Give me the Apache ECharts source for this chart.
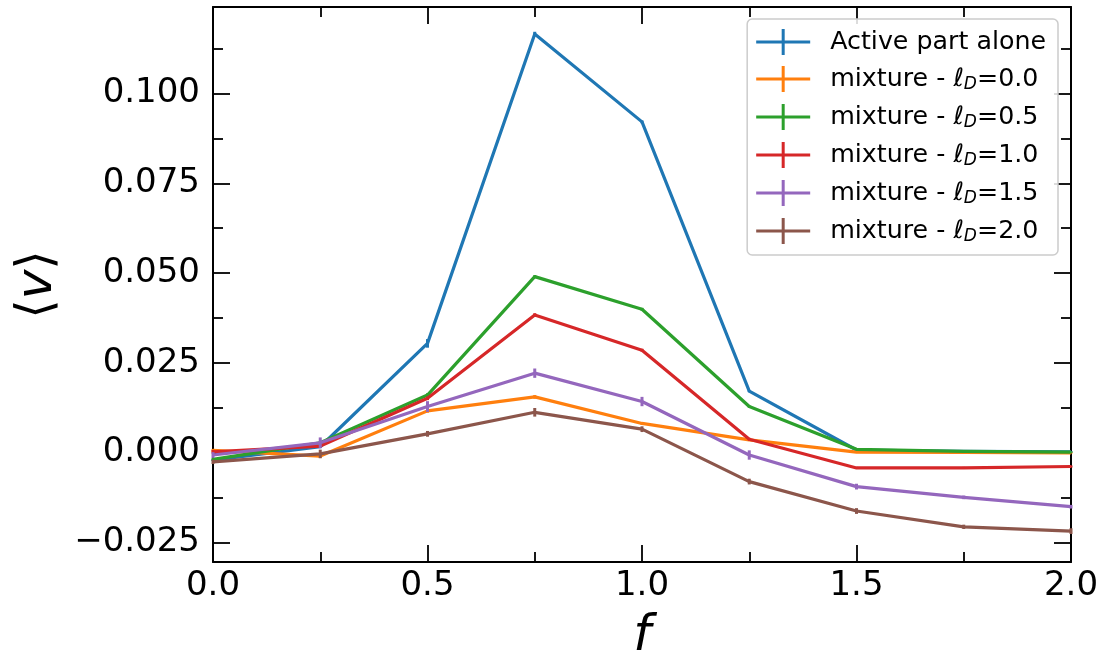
<!DOCTYPE html>
<html>
<head>
<meta charset="utf-8">
<script src="https://cdn.jsdelivr.net/npm/echarts@6/dist/echarts.min.js"></script>
<style>
  html, body { margin: 0; padding: 0; background: #fff; }
  #chart { width: 1104px; height: 653px; }
</style>
</head>
<body>
<div id="chart"></div>
<script>
// Activity fraction f on the x axis
const fValues = [0.0, 0.25, 0.5, 0.75, 1.0, 1.25, 1.5, 1.75, 2.0];

// Mean velocity <v> for each run
const activeAlone = [-0.0021, 0.0016, 0.0304, 0.1166, 0.0921, 0.0171, 0.0007, 0.0003, 0.0002];
const mixL00 = [0.0006, -0.0010, 0.0116, 0.0155, 0.0081, 0.0035, 0.0001, 0.0000, -0.0001];
const mixL05 = [-0.0019, 0.0027, 0.0160, 0.0490, 0.0399, 0.0128, 0.0009, 0.0003, 0.0001];
const mixL10 = [0.0002, 0.0018, 0.0151, 0.0383, 0.0285, 0.0037, -0.0043, -0.0043, -0.0039];
const mixL15 = [-0.0007, 0.0027, 0.0128, 0.0221, 0.0142, -0.0007, -0.0095, -0.0125, -0.0151];
const mixL20 = [-0.0026, -0.0004, 0.0052, 0.0112, 0.0065, -0.0081, -0.0163, -0.0207, -0.0219];

// Error bar half-heights
const errActive = [0.0003, 0.0003, 0.0012, 0.0006, 0.0004, 0.0003, 0.0002, 0.0002, 0.0002];
const errL00 = [0.0004, 0.0005, 0.0005, 0.0005, 0.0004, 0.0003, 0.0002, 0.0002, 0.0002];
const errL05 = [0.0004, 0.0004, 0.0005, 0.0004, 0.0004, 0.0003, 0.0002, 0.0002, 0.0002];
const errL10 = [0.0005, 0.0004, 0.0005, 0.0005, 0.0004, 0.0004, 0.0003, 0.0003, 0.0003];
const errL15 = [0.0008, 0.0015, 0.0015, 0.0013, 0.0013, 0.0013, 0.0008, 0.0005, 0.0005];
const errL20 = [0.0006, 0.0012, 0.0008, 0.0012, 0.0008, 0.0008, 0.0008, 0.0006, 0.0008];

// Legend labels and colours
const ellD = ['0.0', '0.5', '1.0', '1.5', '2.0'];
const seriesNames = ['Active part alone'].concat(ellD.map(v => 'mixture - ℓD=' + v));
const seriesColors = ['#1f77b4', '#ff7f0e', '#2ca02c', '#d62728', '#9467bd', '#8c564b'];
const seriesValues = [activeAlone, mixL00, mixL05, mixL10, mixL15, mixL20];
const seriesErrors = [errActive, errL00, errL05, errL10, errL15, errL20];

// Tick positions
const yMajorTicks = [-0.025, 0.0, 0.025, 0.05, 0.075, 0.1];
const yMinorTicks = [-0.0125, 0.0125, 0.0375, 0.0625, 0.0875, 0.1125];

const Y_MIN = -0.0305, Y_MAX = 0.1241;
const FONT = 'DejaVu Sans';

const chart = echarts.init(document.getElementById('chart'), null, { renderer: 'canvas' });

function fmtY(v) {
  const s = Math.abs(v).toFixed(3);
  return (v < -1e-12 ? '\u2212' : '') + s;
}

const series = [];
seriesValues.forEach((vals, i) => {
  series.push({
    name: seriesNames[i],
    type: 'line',
    data: fValues.map((f, k) => [f, vals[k]]),
    showSymbol: false,
    symbol: 'none',
    color: seriesColors[i],
    lineStyle: { width: 3.2, color: seriesColors[i], join: 'round', cap: 'butt' },
    itemStyle: { color: seriesColors[i] },
    animation: false,
    z: 2 + i * 0.01
  });
  // vertical error bars
  series.push({
    name: seriesNames[i],
    type: 'custom',
    data: fValues.map((f, k) => [f, vals[k], seriesErrors[i][k]]),
    color: seriesColors[i],
    renderItem: function (params, api) {
      const x = api.value(0), y = api.value(1), e = api.value(2);
      const p1 = api.coord([x, y - e]);
      const p2 = api.coord([x, y + e]);
      return {
        type: 'line',
        shape: { x1: p1[0], y1: p1[1], x2: p2[0], y2: p2[1] },
        style: { stroke: seriesColors[i], lineWidth: 3 }
      };
    },
    animation: false,
    z: 2 + i * 0.01
  });
});

const tickLine = { color: '#000', width: 1.8 };
const frameLine = { show: true, onZero: false, lineStyle: { color: '#000', width: 2 } };

const option = {
  animation: false,
  backgroundColor: '#fff',
  grid: { left: 213, right: 33, top: 7, bottom: 91, containLabel: false, outerBoundsMode: 'none' },
  legend: {
    data: seriesNames,
    orient: 'vertical',
    right: 46,
    top: 19,
    padding: [10, 12, 10, 9],
    itemWidth: 54,
    itemHeight: 26,
    itemGap: 11,
    icon: 'path://M0,11.5h54v3h-54z M25.5,0h3v26h-3z',
    backgroundColor: 'rgba(255,255,255,0.85)',
    borderColor: '#cccccc',
    borderWidth: 1.5,
    borderRadius: 5,
    selectedMode: false,
    formatter: function (name) {
      if (name.indexOf('ℓD') >= 0) {
        const parts = name.split('ℓD');
        return parts[0] + '{l|ℓ}{sub|D}' + parts[1];
      }
      return name;
    },
    textStyle: {
      fontFamily: FONT,
      fontSize: 25.3,
      color: '#000',
      padding: [0, 0, 0, 15],
      rich: {
        l: { fontFamily: FONT, fontSize: 25.3, fontStyle: 'italic', color: '#000' },
        sub: { fontFamily: FONT, fontSize: 17, fontStyle: 'italic', color: '#000', padding: [11, 0, 0, 0] }
      }
    }
  },
  xAxis: [
    {
      type: 'value', position: 'bottom', min: 0, max: 2, interval: 0.5,
      name: 'f', nameLocation: 'middle', nameGap: 50, nameMoveOverlap: false,
      nameTextStyle: { fontFamily: FONT, fontSize: 50, fontStyle: 'italic', color: '#000' },
      axisLine: frameLine,
      axisTick: { show: true, inside: true, length: 17, lineStyle: tickLine },
      minorTick: { show: true, splitNumber: 2, length: 10, lineStyle: tickLine },
      axisLabel: {
        show: true, margin: 7, fontFamily: FONT, fontSize: 34, color: '#000',
        formatter: v => v.toFixed(1)
      },
      splitLine: { show: false }
    },
    {
      type: 'value', position: 'top', min: 0, max: 2, interval: 0.5,
      axisLine: frameLine,
      axisTick: { show: true, inside: true, length: 17, lineStyle: tickLine },
      minorTick: { show: true, splitNumber: 2, length: 10, lineStyle: tickLine },
      axisLabel: { show: false },
      splitLine: { show: false }
    }
  ],
  yAxis: [
    {
      type: 'value', position: 'left', offset: 0, min: Y_MIN, max: Y_MAX,
      name: '{a|⟨}{v|v}{a|⟩}', nameLocation: 'middle', nameGap: 150, nameRotate: 90,
      nameMoveOverlap: false,
      nameTextStyle: {
        fontFamily: FONT, fontSize: 50, color: '#000',
        rich: {
          a: { fontFamily: FONT, fontSize: 50, color: '#000' },
          v: { fontFamily: FONT, fontSize: 50, fontStyle: 'italic', color: '#000' }
        }
      },
      axisLine: frameLine,
      axisTick: { show: true, inside: true, length: 17, lineStyle: tickLine, customValues: yMajorTicks },
      axisLabel: {
        show: true, margin: 13, fontFamily: FONT, fontSize: 34, color: '#000',
        customValues: yMajorTicks, formatter: fmtY
      },
      splitLine: { show: false }
    },
    {
      type: 'value', position: 'left', offset: 0, min: Y_MIN, max: Y_MAX,
      axisLine: { show: false, onZero: false },
      axisTick: { show: true, inside: true, length: 10, lineStyle: tickLine, customValues: yMinorTicks },
      axisLabel: { show: false },
      splitLine: { show: false }
    },
    {
      type: 'value', position: 'right', offset: 0, min: Y_MIN, max: Y_MAX,
      axisLine: frameLine,
      axisTick: { show: true, inside: true, length: 17, lineStyle: tickLine, customValues: yMajorTicks },
      axisLabel: { show: false },
      splitLine: { show: false }
    },
    {
      type: 'value', position: 'right', offset: 0, min: Y_MIN, max: Y_MAX,
      axisLine: { show: false, onZero: false },
      axisTick: { show: true, inside: true, length: 10, lineStyle: tickLine, customValues: yMinorTicks },
      axisLabel: { show: false },
      splitLine: { show: false }
    }
  ],
  series: series
};

chart.setOption(option);
</script>
</body>
</html>
